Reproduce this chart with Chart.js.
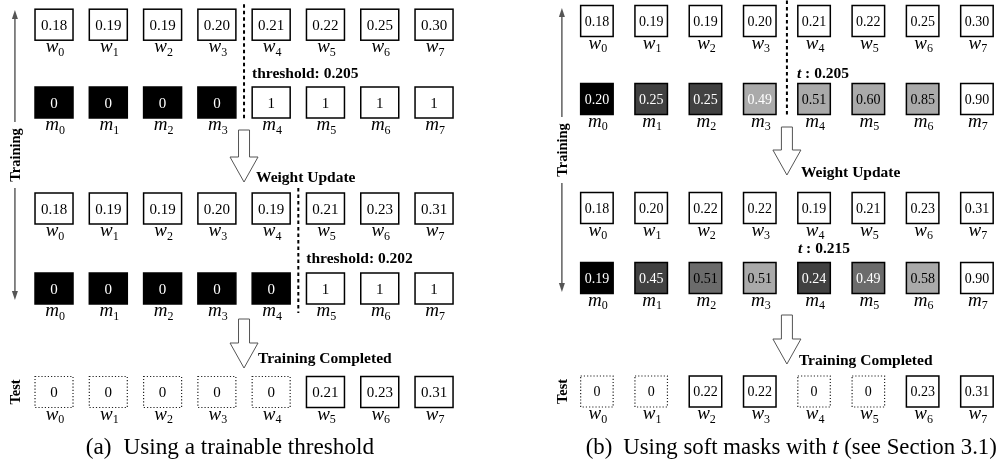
<!DOCTYPE html>
<html>
<head>
<meta charset="utf-8">
<script src="https://cdn.jsdelivr.net/npm/chart.js@4.4.1/dist/chart.umd.min.js"></script>
<style>
  html, body { margin: 0; padding: 0; background: #fff; }
  #wrap { width: 1000px; height: 463px; }
</style>
</head>
<body>
<div id="wrap"><canvas id="diagram"></canvas></div>
<script>
// ---- values ----
const cols = [0, 1, 2, 3, 4, 5, 6, 7];

// (a) trainable threshold
const aWeightsStart = [0.18, 0.19, 0.19, 0.20, 0.21, 0.22, 0.25, 0.30];
const aMasksStart   = [0, 0, 0, 0, 1, 1, 1, 1];
const aWeightsNext  = [0.18, 0.19, 0.19, 0.20, 0.19, 0.21, 0.23, 0.31];
const aMasksNext    = [0, 0, 0, 0, 0, 1, 1, 1];
const aTest         = [0, 0, 0, 0, 0, 0.21, 0.23, 0.31];
const aThresholds   = [0.205, 0.202];

// (b) soft masks with t
const bWeightsStart = [0.18, 0.19, 0.19, 0.20, 0.21, 0.22, 0.25, 0.30];
const bMasksStart   = [0.20, 0.25, 0.25, 0.49, 0.51, 0.60, 0.85, 0.90];
const bShadeStart   = [4, 3, 3, 1, 1, 1, 1, 0];   // 0 = white ... 4 = black
const bWeightsNext  = [0.18, 0.20, 0.22, 0.22, 0.19, 0.21, 0.23, 0.31];
const bMasksNext    = [0.19, 0.45, 0.51, 0.51, 0.24, 0.49, 0.58, 0.90];
const bShadeNext    = [4, 3, 2, 1, 3, 2, 1, 0];
const bTest         = [0, 0, 0.22, 0.22, 0, 0, 0.23, 0.31];
const bThresholds   = [0.205, 0.215];

// ---- style / layout ----
const SERIF = '"Liberation Serif", "Times New Roman", serif';
const shadePalette = ['#ffffff', '#aaaaaa', '#6b6b6b', '#414141', '#000000'];

const hardSplit = m => m.indexOf(1) - 0.5;
const softSplit = m => m.findIndex(v => v >= 0.5) - 0.5;

const panels = [
    {
        offset: 0, boxW: 38, boxH: 31, numPx: 15, axisX: -0.72,
        rowY: [24.7, 102.5, 208.5, 288.5, 392],
        axisTop: 10, axisBottom: 300,
        rows: [
            { kind: 'weight', letter: 'w', values: aWeightsStart },
            { kind: 'hard', letter: 'm', values: aMasksStart },
            { kind: 'weight', letter: 'w', values: aWeightsNext },
            { kind: 'hard', letter: 'm', values: aMasksNext },
            { kind: 'test', letter: 'w', values: aTest }
        ],
        dividers: [
            { col: hardSplit(aMasksStart), from: 0, to: 1, ext: 2 },
            { col: hardSplit(aMasksNext), from: 2, to: 3, ext: 9 }
        ],
        notes: [
            { col: hardSplit(aMasksStart), dx: 8, row: 1, above: 9,
              parts: [{ t: 'threshold: ' + aThresholds[0].toFixed(3) }] },
            { col: hardSplit(aMasksNext), dx: 8, row: 3, above: 10,
              parts: [{ t: 'threshold: ' + aThresholds[1].toFixed(3) }] }
        ],
        arrows: [
            { top: 130, tip: 182, dx: 12, base: 182, text: 'Weight Update' },
            { top: 319, tip: 368, dx: 14, base: 363, text: 'Training Completed' }
        ],
        capCenter: 3.24, capSize: 23.2,
        caption: [{ t: '(a)' }, { gap: 12 }, { t: 'Using a trainable threshold' }]
    },
    {
        offset: 10, boxW: 32.5, boxH: 31, numPx: 14, axisX: -0.645,
        rowY: [21, 99, 208, 278, 391.5],
        axisTop: 8, axisBottom: 292,
        rows: [
            { kind: 'weight', letter: 'w', values: bWeightsStart },
            { kind: 'soft', letter: 'm', values: bMasksStart, shades: bShadeStart },
            { kind: 'weight', letter: 'w', values: bWeightsNext },
            { kind: 'soft', letter: 'm', values: bMasksNext, shades: bShadeNext },
            { kind: 'test', letter: 'w', values: bTest }
        ],
        dividers: [
            { col: softSplit(bMasksStart), from: 0, to: 1, ext: 2 }
        ],
        notes: [
            { col: 3.5, dx: 10, row: 1, above: 6,
              parts: [{ t: 't', italic: true }, { t: ' : ' + bThresholds[0].toFixed(3) }] },
            { col: 3.5, dx: 11, row: 3, above: 10,
              parts: [{ t: 't', italic: true }, { t: ' : ' + bThresholds[1].toFixed(3) }] }
        ],
        arrows: [
            { top: 127, tip: 175, dx: 14, base: 177, text: 'Weight Update' },
            { top: 315, tip: 364, dx: 12, base: 365, text: 'Training Completed' }
        ],
        capCenter: 3.58, capSize: 22.8,
        caption: [{ t: '(b)' }, { gap: 11 }, { t: 'Using soft masks with ' },
                  { t: 't', italic: true }, { t: ' (see Section 3.1)' }]
    }
];

// one invisible scatter dataset per row; the plugin draws the cells at the points
const datasets = [];
panels.forEach((p, pi) => {
    p.rows.forEach((row, r) => {
        datasets.push({
            data: cols.map(c => ({ x: c + p.offset, y: p.rowY[r] })),
            pointRadius: 0,
            panelIndex: pi,
            rowIndex: r
        });
    });
});

const fmt = v => Number.isInteger(v) ? String(v) : v.toFixed(2);

function setFont(ctx, part, px, bold) {
    ctx.font = (part.italic ? 'italic ' : '') + (bold ? 'bold ' : '') + px + 'px ' + SERIF;
}

function partsWidth(ctx, parts, px, bold) {
    let w = 0;
    parts.forEach(part => {
        if (part.gap) { w += part.gap; return; }
        setFont(ctx, part, px, bold);
        w += ctx.measureText(part.t).width;
    });
    return w;
}

function drawParts(ctx, parts, x, y, px, bold) {
    parts.forEach(part => {
        if (part.gap) { x += part.gap; return; }
        setFont(ctx, part, px, bold);
        ctx.fillText(part.t, x, y);
        x += ctx.measureText(part.t).width;
    });
}

function hollowArrow(ctx, cx, top, tip) {
    const shaft = 5.5, head = 14, headH = 25;
    ctx.beginPath();
    ctx.moveTo(cx - shaft, top);
    ctx.lineTo(cx + shaft, top);
    ctx.lineTo(cx + shaft, tip - headH);
    ctx.lineTo(cx + head, tip - headH);
    ctx.lineTo(cx, tip);
    ctx.lineTo(cx - head, tip - headH);
    ctx.lineTo(cx - shaft, tip - headH);
    ctx.closePath();
    ctx.fillStyle = '#fff';
    ctx.fill();
    ctx.strokeStyle = '#555';
    ctx.lineWidth = 1;
    ctx.stroke();
}

function headTriangle(ctx, x, y, dir) {
    ctx.beginPath();
    ctx.moveTo(x, y);
    ctx.lineTo(x - 3, y - dir * 9);
    ctx.lineTo(x + 3, y - dir * 9);
    ctx.closePath();
    ctx.fill();
}

const diagramPlugin = {
    id: 'diagram',
    afterDatasetsDraw(chart) {
        const { ctx, scales: { x, y } } = chart;
        ctx.save();
        ctx.textAlign = 'left';
        ctx.textBaseline = 'alphabetic';

        // cells and their labels
        chart.data.datasets.forEach((ds, i) => {
            const meta = chart.getDatasetMeta(i);
            const p = panels[ds.panelIndex], row = p.rows[ds.rowIndex];
            meta.data.forEach((pt, j) => {
                const v = row.values[j];
                const bx = pt.x - p.boxW / 2, by = pt.y - p.boxH / 2;
                let fill = '#fff', txt = '#000', dotted = false;
                if (row.kind === 'hard' && v === 0) { fill = '#000'; txt = '#fff'; }
                if (row.kind === 'soft') {
                    fill = shadePalette[row.shades[j]];
                    txt = v < 0.5 ? '#fff' : '#000';
                }
                if (row.kind === 'test' && v === 0) dotted = true;

                ctx.fillStyle = fill;
                ctx.fillRect(bx, by, p.boxW, p.boxH);
                if (dotted) {
                    ctx.setLineDash([1.2, 2]);
                    ctx.lineWidth = 1.2;
                    ctx.strokeStyle = '#222';
                } else {
                    ctx.setLineDash([]);
                    ctx.lineWidth = 1.5;
                    ctx.strokeStyle = '#000';
                }
                ctx.strokeRect(bx, by, p.boxW, p.boxH);
                ctx.setLineDash([]);

                ctx.fillStyle = txt;
                ctx.font = p.numPx + 'px ' + SERIF;
                ctx.textAlign = 'center';
                ctx.fillText(fmt(v), pt.x, pt.y + p.numPx * 0.34);

                // w_j / m_j label under the cell
                ctx.textAlign = 'left';
                ctx.fillStyle = '#000';
                ctx.font = 'italic 19px ' + SERIF;
                const lw = ctx.measureText(row.letter).width;
                ctx.font = '12px ' + SERIF;
                const sw = ctx.measureText(String(j)).width;
                const lx = pt.x - (lw + sw) / 2 + 1;
                const base = by + p.boxH + 12;
                ctx.font = 'italic 19px ' + SERIF;
                ctx.fillText(row.letter, lx, base);
                ctx.font = '12px ' + SERIF;
                ctx.fillText(String(j), lx + lw, base + 3.5);
            });
        });

        panels.forEach(p => {
            const top = r => p.rowY[r] - p.boxH / 2;
            const bottom = r => p.rowY[r] + p.boxH / 2;

            // dashed split lines
            ctx.strokeStyle = '#000';
            ctx.lineWidth = 2;
            ctx.setLineDash([3.5, 3]);
            p.dividers.forEach(d => {
                const dx = x.getPixelForValue(p.offset + d.col);
                ctx.beginPath();
                ctx.moveTo(dx, y.getPixelForValue(top(d.from) - 5));
                ctx.lineTo(dx, y.getPixelForValue(bottom(d.to) + d.ext));
                ctx.stroke();
            });
            ctx.setLineDash([]);

            // threshold notes
            ctx.fillStyle = '#000';
            p.notes.forEach(n => {
                const nx = x.getPixelForValue(p.offset + n.col) + n.dx;
                const ny = y.getPixelForValue(top(n.row) - n.above);
                drawParts(ctx, n.parts, nx, ny, 15.5, true);
            });

            // step arrows
            p.arrows.forEach(a => {
                const ax = x.getPixelForValue(p.offset + 3.5);
                hollowArrow(ctx, ax, y.getPixelForValue(a.top), y.getPixelForValue(a.tip));
                ctx.fillStyle = '#000';
                ctx.font = 'bold 15.5px ' + SERIF;
                ctx.fillText(a.text, ax + a.dx, y.getPixelForValue(a.base));
            });

            // Training / Test side axis
            const sx = x.getPixelForValue(p.offset + p.axisX);
            const t0 = y.getPixelForValue(p.axisTop), t1 = y.getPixelForValue(p.axisBottom);
            const mid = (t0 + t1) / 2;
            ctx.strokeStyle = '#555';
            ctx.fillStyle = '#555';
            ctx.lineWidth = 1.4;
            ctx.beginPath();
            ctx.moveTo(sx, t0 + 6);
            ctx.lineTo(sx, mid - 33);
            ctx.moveTo(sx, mid + 33);
            ctx.lineTo(sx, t1 - 6);
            ctx.stroke();
            headTriangle(ctx, sx, t0, -1);
            headTriangle(ctx, sx, t1, 1);

            ctx.fillStyle = '#000';
            ctx.font = 'bold 14.5px ' + SERIF;
            ctx.textAlign = 'center';
            ctx.textBaseline = 'middle';
            [['Training', mid], ['Test', y.getPixelForValue(p.rowY[4])]].forEach(([label, cy]) => {
                ctx.save();
                ctx.translate(sx + 1, cy);
                ctx.rotate(-Math.PI / 2);
                ctx.fillText(label, 0, 0);
                ctx.restore();
            });
            ctx.textAlign = 'left';
            ctx.textBaseline = 'alphabetic';

            // caption, centred on a column position of its panel
            const cw = partsWidth(ctx, p.caption, p.capSize, false);
            const capLeft = x.getPixelForValue(p.offset + p.capCenter) - cw / 2;
            ctx.fillStyle = '#000';
            drawParts(ctx, p.caption, capLeft, y.getPixelForValue(454), p.capSize, false);
        });

        ctx.restore();
    }
};

new Chart(document.getElementById('diagram'), {
    type: 'scatter',
    data: { datasets },
    options: {
        responsive: true,
        maintainAspectRatio: false,
        animation: false,
        events: [],
        layout: { padding: 0 },
        plugins: { legend: { display: false }, tooltip: { enabled: false } },
        scales: {
            // x in column units: column 0 of (a) at 0, column 0 of (b) at 10
            x: { type: 'linear', min: -0.995, max: 17.425, display: false },
            // y in layout units, top to bottom
            y: { type: 'linear', min: 0, max: 463, reverse: true, display: false }
        }
    },
    plugins: [diagramPlugin]
});
</script>
</body>
</html>
